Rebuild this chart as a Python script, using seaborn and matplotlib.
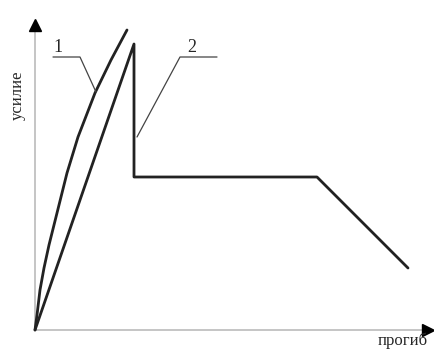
import pandas as pd
import matplotlib
matplotlib.use('Agg')
import matplotlib.pyplot as plt
import seaborn as sns

# curve 1 (smooth) and curve 2 (broken line), deflection vs force
curve1_x = [0, 2, 5, 9, 14, 22, 32, 43, 60, 76, 92]
curve1_y = [0, 15, 40, 62, 85, 117, 157, 193, 237, 270, 300]
curve2_x = [0, 99, 99, 282, 373]
curve2_y = [0, 286, 153, 153, 62]

# leader lines for the labels
leader1_x = [18, 45, 61]
leader1_y = [273, 273, 238]
leader2_x = [182, 145, 102]
leader2_y = [273, 273, 193]

labels = ['1', '2']
xlabel = 'прогиб'
ylabel = 'усилие'

sns.set_style('white')
plt.rcParams['font.family'] = ['Liberation Serif', 'DejaVu Serif']

fig = plt.figure(figsize=(4.35, 3.54), dpi=100)
ax = fig.add_axes([0, 0, 1, 1])
ax.set_xlim(-35, 400)
ax.set_ylim(-24, 330)
ax.axis('off')

# axes with arrows
ax.plot([0, 0], [0, 304], color='#bbbbbb', lw=1.2)
ax.plot([0, 392], [0, 0], color='#bbbbbb', lw=1.2)
ax.plot(0, 305, marker='^', color='black', markersize=8)
ax.plot(393, 0, marker='>', color='black', markersize=8)

df1 = pd.DataFrame({'x': curve1_x, 'y': curve1_y})
df2 = pd.DataFrame({'x': curve2_x, 'y': curve2_y})
sns.lineplot(data=df1, x='x', y='y', sort=False, estimator=None,
             color='#222222', lw=2, ax=ax)
sns.lineplot(data=df2, x='x', y='y', sort=False, estimator=None,
             color='#222222', lw=2, ax=ax)

ax.plot(leader1_x, leader1_y, color='#444444', lw=0.9)
ax.plot(leader2_x, leader2_y, color='#444444', lw=0.9)

ax.text(23, 283, labels[0], fontsize=13, ha='center', va='center')
ax.text(157, 283, labels[1], fontsize=13, ha='center', va='center')
ax.text(-17, 235, ylabel, fontsize=12, rotation=90, ha='center', va='center')
ax.text(368, -11, xlabel, fontsize=12, ha='center', va='center')

ax.set_xlabel('')
ax.set_ylabel('')
fig.savefig('out.png', dpi=100)
